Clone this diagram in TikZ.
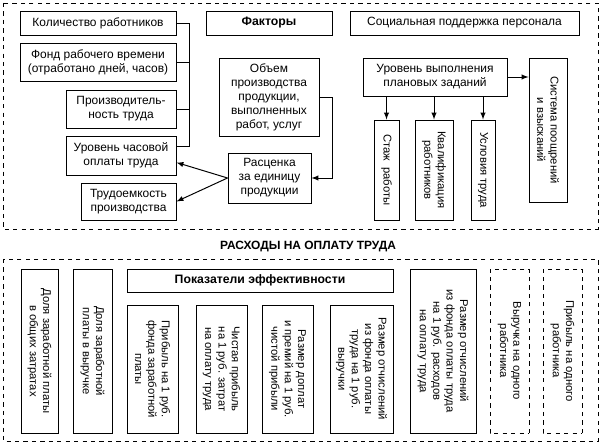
\documentclass[tikz,border=0pt]{standalone}
\usepackage{fontspec}
\setmainfont{Liberation Sans}
\usetikzlibrary{calc,positioning}
\tikzset{
  blk/.style  = {draw, line width=0.7pt, inner sep=1pt, align=center,
                 font=\fontsize{8.5}{10}\selectfont},
  vblk/.style = {blk, rotate=-90, font=\fontsize{8}{9.5}\selectfont},
  dblk/.style = {vblk, dashed, line width=0.6pt},
  bblk/.style = {blk, font=\fontsize{8.7}{10}\selectfont\bfseries},
  frame/.style = {draw, dashed, line width=0.6pt},
}

\begin{document}
\begin{tikzpicture}[x=0.025cm, y=-0.025cm, line width=0.7pt]
\def\block#1(#2)#3<#4,#5>#6[#7] at (#8);{
	\node[blk, minimum width=#4*0.025cm, minimum height=#5*0.025cm] (#2) at (#8) {#7}; }
\def\vblock#1(#2)#3<#4,#5>#6[#7] at (#8);{
	\node[#1, minimum width=#5*0.025cm, minimum height=#4*0.025cm] (#2) at (#8) {#7}; }

\useasboundingbox (0,0) rectangle (602,444);

%---------------------------------------------
% Факторы
\draw[frame] (3,3) rectangle (598,229);

\block (kol) <156,24>[Количество работников] at (98,23);
\block (fond) <156,38>[Фонд рабочего времени\\(отработано дней, часов)] at (98,62);
\block (proiz) <110,38>[Производитель-\\ность труда] at (121,109);
\block (urch) <110,39>[Уровень часовой\\оплаты труда] at (121,155.5);
\block (trud) <95,37>[Трудоемкость\\производства] at (128.5,201.5);

\node[bblk, minimum width=126*0.025cm, minimum height=24*0.025cm] (fakt) at (269,23) {Факторы};
\block (obem) <100,78>[Объем\\производства\\продукции,\\выполненных\\работ, услуг] at (269,97);
\block (rasc) <83,50>[Расценка\\за единицу\\продукции] at (269.5,178);

\block (soc) <229,24>[Социальная поддержка персонала] at (464.5,23);
\block (uvp) <144,38>[Уровень выполнения\\плановых заданий] at (435,77);
\vblock vblk(sist) <38,144>[Система поощрений\\и взысканий] at (548,130);
\vblock vblk(stazh) <25,100>[Стаж\ \ работы] at (386.5,170);
\vblock vblk(kval) <38,100>[Квалификация\\работников] at (434,170);
\vblock vblk(uslov) <24,100>[Условия труда] at (483,170);

\coordinate (urch_b) at ($(urch.north east)+(0,11)$);
\coordinate (urch_a) at ($(urch.east)+(0,7)$);
\draw (kol.east) -- ++(13,0) |- (urch_b);
\draw (fond.east) -- ++(13,0);
\draw (proiz.east) -- ++(13,0);
\draw[-latex] (obem.east) -- ++(13,0) |- (rasc.east);
\draw[-latex] (rasc.west) -- (urch_a);
\draw[-latex] (rasc.west) -- (trud.east);
\draw[-latex] (uvp.east) -- (uvp.east -| sist.south);
\foreach \n in {stazh,kval,uslov}
  \draw[-latex] (uvp.south -| \n.west) -- (\n.west);

%---------------------------------------------
% Расходы
\node[font=\fontsize{8.5}{10}\selectfont\bfseries] (rash) at (308,247) {РАСХОДЫ НА ОПЛАТУ ТРУДА};
\draw[frame] (3,259) rectangle (598,441);

\vblock vblk(d1) <37,164>[Доля заработной платы\\в общих затратах] at (39.5,351);
\vblock vblk(d2) <39,164>[Доля заработной\\платы в выручке] at (92.5,351);
\node[bblk, minimum width=266*0.025cm, minimum height=23*0.025cm] (pok) at (260,280.5) {Показатели эффективности};
\vblock vblk(p1) <51,128>[Прибыль на 1 руб.\\фонда заработной\\платы] at (152.5,369);
\vblock vblk(p2) <51,128>[Чистая прибыль\\на 1 руб. затрат\\на оплату труда] at (221.5,369);
\vblock vblk(p3) <51,128>[Размер доплат\\и премий на 1 руб.\\чистой прибыли] at (287.5,369);
\vblock vblk(p4) <63,128>[Размер отчислений\\из фонда оплаты\\труда на 1 руб.\\выручки] at (361.5,369);
\vblock vblk(r5) <66,164>[Размер отчислений\\из фонда оплаты труда\\на 1 руб. расходов\\на оплату труда] at (443,351);
\vblock dblk(v1) <39,164>[Выручка на одного\\работника] at (509.5,351);
\vblock dblk(v2) <39,164>[Прибыль на одного\\работника] at (562.5,351);

\end{tikzpicture}
\end{document}
